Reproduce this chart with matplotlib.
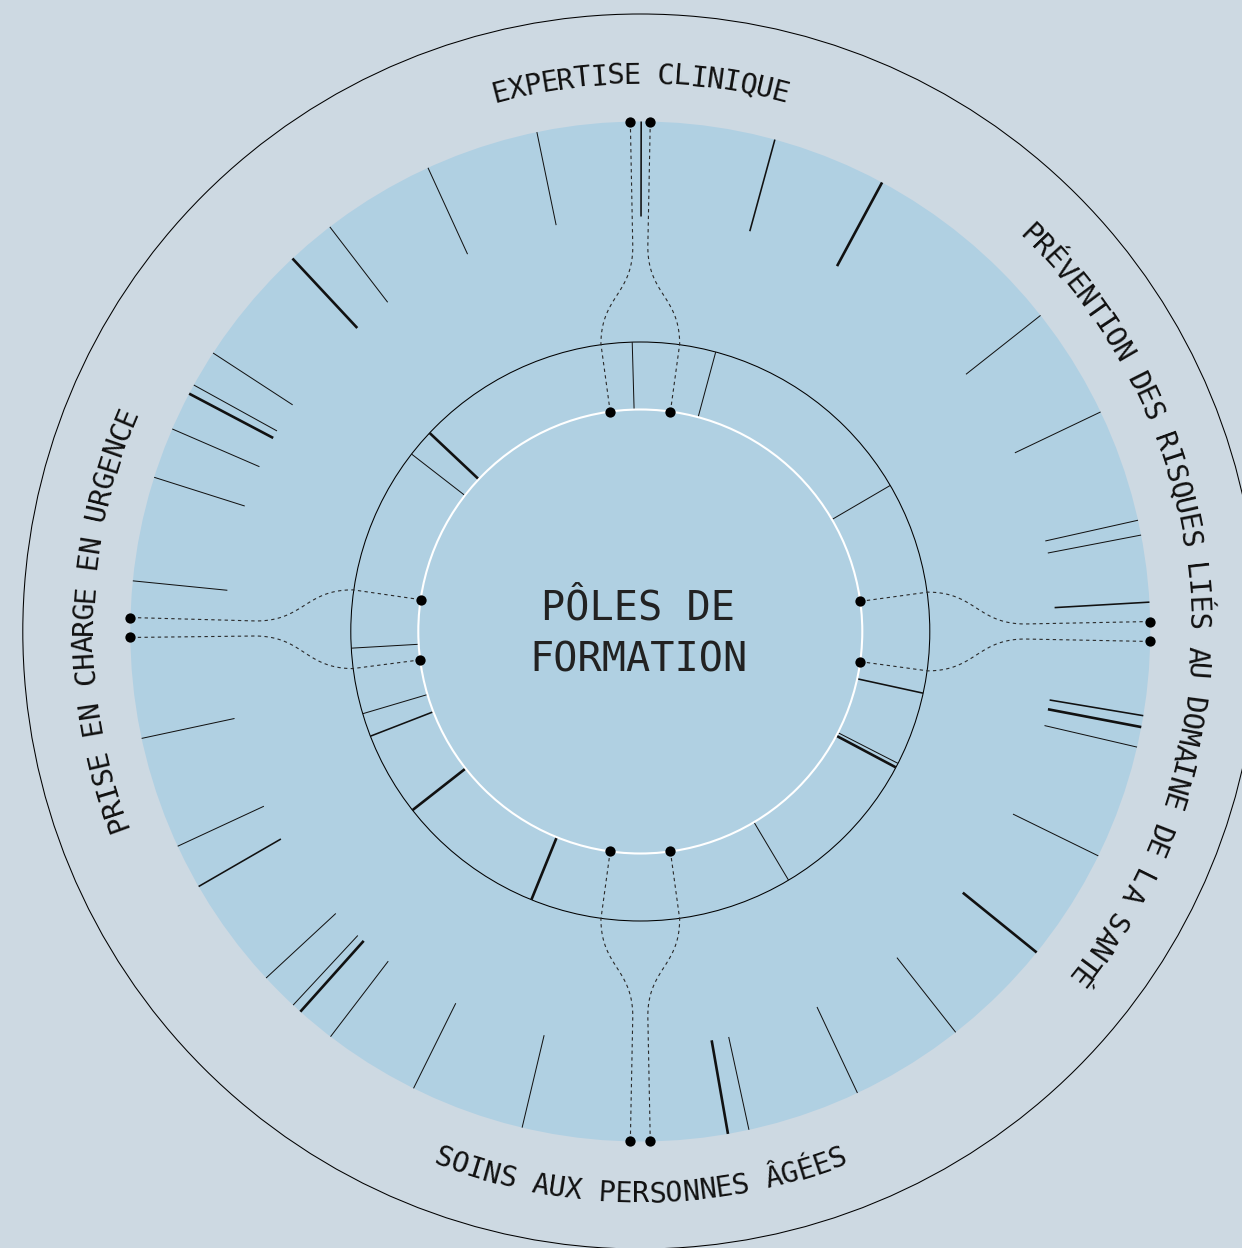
import numpy as np
import matplotlib.pyplot as plt
from matplotlib.patches import Circle

plt.rcParams['font.family'] = ['DejaVu Sans Mono', 'DejaVu Sans']

# --- data -------------------------------------------------------------
# angles are compass bearings (degrees, clockwise from the top)
outer_angles = [0.1, 15.3, 28.3, 51.7, 64.5, 77.4, 79.1, 86.7, 99.5, 100.8,
                103.1, 116.1, 129.0, 141.8, 154.8, 167.7, 170.1, 193.4, 206.4,
                217.4, 221.8, 222.9, 227.2, 240.0, 245.1, 257.9, 275.7, 287.6,
                293.4, 297.8, 298.9, 303.1, 317.0, 322.5, 335.4, 348.3]
outer_weights = [2, 2, 3, 1, 1, 1, 1, 2, 2, 3,
                 1, 1, 3, 1, 1, 1, 3, 1, 1,
                 1, 3, 1, 1, 2, 1, 1, 1, 1,
                 1, 3, 1, 1, 3, 1, 1, 1]

inner_angles = [358.4, 15.1, 59.7, 102.3, 117.1, 118.0, 149.2, 202.1,
                231.9, 248.8, 253.5, 266.7, 307.8, 313.3]
inner_weights = [1, 1, 1, 2, 1, 3, 1, 3, 3, 2, 1, 1, 1, 3]

group_labels = ['EXPERTISE CLINIQUE',
                'PRÉVENTION DES RISQUES LIÉS AU DOMAINE DE LA SANTÉ',
                'SOINS AUX PERSONNES ÂGÉES',
                'PRISE EN CHARGE EN URGENCE']
label_centers = [0.0, 86.4, 180.0, 271.35]
link_dirs = [0.0, 90.0, 180.0, 270.45]
title_lines = ['PÔLES DE', 'FORMATION']

# --- layout -----------------------------------------------------------
W, H = 1242, 1248
CX, CY = 640.3, 631.5
BG = '#cdd9e2'
BLUE = '#b0d0e2'
R_OUT, R_DISK = 617.5, 510
R_TICK_IN = 415
R_RING, R_WHITE = 289.5, 222
widths = {1: 0.72, 2: 1.15, 3: 1.9}


def pol(th, r):
    t = np.radians(th)
    return r * np.sin(t), r * np.cos(t)


fig = plt.figure(figsize=(W / 100, H / 100), dpi=100, facecolor=BG)
ax = fig.add_axes([0, 0, 1, 1])
ax.set_xlim(-CX, W - CX)
ax.set_ylim(-(H - CY), CY)
ax.set_axis_off()
ax.set_facecolor(BG)

ax.add_patch(Circle((0, 0), R_DISK, facecolor=BLUE, edgecolor='none', zorder=1))
ax.add_patch(Circle((0, 0), R_OUT, facecolor='none', edgecolor='black', lw=0.75, zorder=2))
ax.add_patch(Circle((0, 0), R_RING, facecolor='none', edgecolor='black', lw=0.75, zorder=2))

# outer ticks
for a, w in zip(outer_angles, outer_weights):
    x0, y0 = pol(a, R_TICK_IN)
    x1, y1 = pol(a, R_DISK)
    ax.plot([x0, x1], [y0, y1], color='#111111', lw=widths[w],
            solid_capstyle='butt', zorder=3)

# inner ring ticks
for a, w in zip(inner_angles, inner_weights):
    x0, y0 = pol(a, R_WHITE)
    x1, y1 = pol(a, R_RING)
    ax.plot([x0, x1], [y0, y1], color='#111111', lw=widths[w],
            solid_capstyle='butt', zorder=3)

ax.add_patch(Circle((0, 0), R_WHITE, facecolor='none', edgecolor='white', lw=1.5, zorder=4))

# dashed links between inner ring and outer disk
d_in, d_out = np.radians(7.8), np.radians(1.12)
t = np.linspace(0, 1, 60)
for phi in link_dirs:
    p = np.radians(phi)
    u = np.array([np.sin(p), np.cos(p)])
    v = np.array([np.cos(p), -np.sin(p)])
    for s in (-1, 1):
        r1 = np.linspace(R_WHITE, 290, 10)
        seg1 = np.c_[r1 * np.cos(d_in), s * r1 * np.sin(d_in)]
        P0 = np.array([290 * np.cos(d_in), s * 290 * np.sin(d_in)])
        P3 = np.array([385 * np.cos(d_out), s * 385 * np.sin(d_out)])
        P1 = P0 + [48, 0]
        P2 = P3 - [48, 0]
        bez = ((1 - t) ** 3)[:, None] * P0 + (3 * (1 - t) ** 2 * t)[:, None] * P1 \
            + (3 * (1 - t) * t ** 2)[:, None] * P2 + (t ** 3)[:, None] * P3
        r3 = np.linspace(385, R_DISK, 10)
        seg3 = np.c_[r3 * np.cos(d_out), s * r3 * np.sin(d_out)]
        loc = np.vstack([seg1, bez, seg3])
        g = loc[:, :1] * u + loc[:, 1:] * v
        ax.plot(g[:, 0], g[:, 1], color='#2a2a2a', lw=0.8,
                linestyle=(0, (3, 3)), zorder=5)
        for pt in (loc[0], loc[-1]):
            gp = pt[0] * u + pt[1] * v
            ax.plot(gp[0], gp[1], 'o', color='black', ms=7.4, mew=0, zorder=6)

# curved group labels
step = 1.71
for text, c in zip(group_labels, label_centers):
    n = len(text)
    inward = 135 < c < 225
    for i, ch in enumerate(text):
        k = i - (n - 1) / 2
        if inward:
            th = c - k * step
            rot = 180 - th
            x, y = pol(th, 571)
        else:
            th = c + k * step
            rot = -th
            x, y = pol(th, 548)
        ax.text(x, y, ch, rotation=rot, rotation_mode='anchor',
                ha='center', va='baseline', fontsize=20.5, color='#111111',
                zorder=7)

# centre title
ax.text(-2, CY - 619.5, title_lines[0], ha='center', va='baseline',
        fontsize=29, color='#222222', zorder=7)
ax.text(-2, CY - 672, title_lines[1], ha='center', va='baseline',
        fontsize=29, color='#222222', zorder=7)

fig.savefig('out.png', dpi=100, facecolor=BG)
